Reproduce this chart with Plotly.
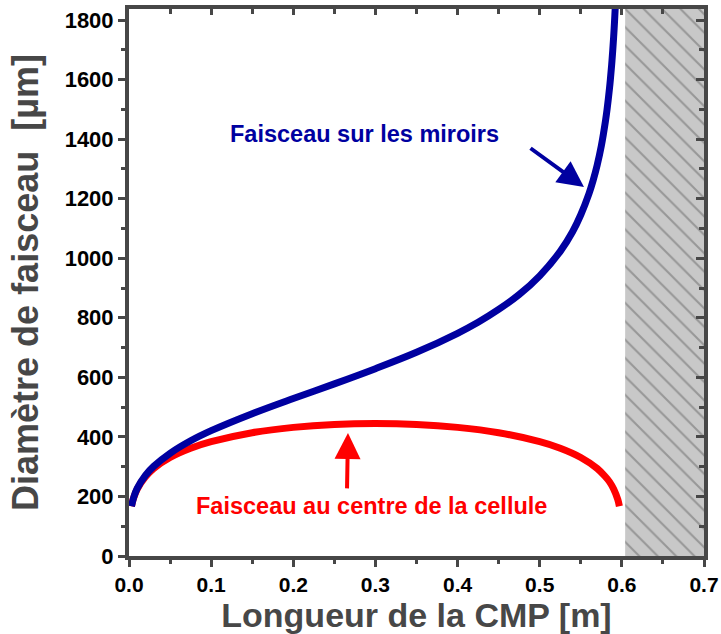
import plotly.graph_objects as go

# Cell length (m) and beam diameter (µm) at the mirrors
mirror_len = [0.003, 0.006, 0.01, 0.02, 0.03, 0.05, 0.075, 0.1, 0.15, 0.2, 0.25, 0.3,
              0.35, 0.4, 0.425, 0.45, 0.475, 0.5, 0.525, 0.54, 0.55, 0.56, 0.565, 0.57,
              0.575, 0.58, 0.582, 0.585, 0.586, 0.588, 0.59, 0.591, 0.592, 0.5925]
mirror_diam = [167, 199, 227, 271, 301, 345, 387, 421, 478, 529, 578, 629,
               684, 748, 785, 828, 878, 941, 1023, 1089, 1146, 1217, 1261, 1313,
               1377, 1460, 1500, 1572, 1600, 1664, 1743, 1791, 1845, 1875]

# Cell length (m) and beam diameter (µm) at the centre of the cell
centre_len = [0.003, 0.005, 0.01, 0.02, 0.03, 0.05, 0.075, 0.1, 0.15, 0.2, 0.25, 0.3,
              0.35, 0.4, 0.45, 0.5, 0.525, 0.55, 0.57, 0.58, 0.585, 0.59, 0.595, 0.597]
centre_diam = [167, 190, 225, 266, 294, 331, 362, 384, 414, 432, 442, 445,
               442, 432, 414, 384, 362, 331, 294, 266, 249, 225, 190, 167]

# Axis limits and ticks
x_max = 0.7
y_max = 1837
x_ticks = [0.0, 0.1, 0.2, 0.3, 0.4, 0.5, 0.6, 0.7]
y_ticks = [0, 200, 400, 600, 800, 1000, 1200, 1400, 1600, 1800]

# Unstable-cell zone (hatched)
unstable_from = 0.604

AXIS_GREY = "#474747"
BLUE = "#0000a0"
RED = "#ff0000"
FONT = "Liberation Sans, Arial, sans-serif"

fig = go.Figure()

fig.add_trace(go.Scatter(
    x=[unstable_from, x_max, x_max, unstable_from, unstable_from],
    y=[0, 0, y_max, y_max, 0],
    mode="lines", line=dict(width=0), fill="toself", fillcolor="#c8c8c8",
    fillpattern=dict(shape="\\", bgcolor="#c8c8c8", fgcolor="#666666",
                     size=13, solidity=0.16),
    hoverinfo="skip", showlegend=False,
))

fig.add_trace(go.Scatter(
    x=centre_len, y=centre_diam, mode="lines",
    line=dict(color=RED, width=7, shape="spline"), showlegend=False,
))
fig.add_trace(go.Scatter(
    x=mirror_len, y=mirror_diam, mode="lines",
    line=dict(color=BLUE, width=7, shape="spline"), showlegend=False,
))

# Invisible trace that carries the mirrored top/right axes
fig.add_trace(go.Scatter(x=[0], y=[0], xaxis="x2", yaxis="y2", mode="markers",
                         marker=dict(opacity=0), hoverinfo="skip", showlegend=False))

x_tick_font = dict(family=FONT, size=21, color="black", weight="bold")
y_tick_font = dict(family=FONT, size=22, color="black", weight="bold")
x_title_font = dict(family=FONT, size=34, color=AXIS_GREY, weight="bold")
y_title_font = dict(family=FONT, size=36, color=AXIS_GREY, weight="bold")

fig.update_layout(
    width=721, height=634, autosize=False,
    margin=dict(l=129, r=17, t=9, b=78),
    plot_bgcolor="white", paper_bgcolor="white",
    xaxis=dict(
        range=[0, x_max], tickvals=x_ticks, tickformat=".1f", automargin=False,
        ticks="outside", ticklen=7, tickwidth=3, tickcolor=AXIS_GREY,
        minor=dict(dtick=0.05, ticks="outside", ticklen=4, tickwidth=3, tickcolor=AXIS_GREY),
        showline=True, linewidth=4, linecolor=AXIS_GREY, showgrid=False, zeroline=False,
        tickfont=x_tick_font,
        title=dict(text="Longueur de la CMP [m]", font=x_title_font, standoff=9),
    ),
    yaxis=dict(
        range=[0, y_max], tickvals=y_ticks, automargin=False,
        ticks="outside", ticklen=7, tickwidth=3, tickcolor=AXIS_GREY,
        minor=dict(dtick=100, ticks="outside", ticklen=4, tickwidth=3, tickcolor=AXIS_GREY),
        showline=True, linewidth=4, linecolor=AXIS_GREY, showgrid=False, zeroline=False,
        tickfont=y_tick_font,
        title=dict(text="Diamètre de faisceau  [µm]", font=y_title_font, standoff=16),
    ),
    xaxis2=dict(
        overlaying="x", side="top", range=[0, x_max], tickvals=x_ticks, automargin=False,
        ticks="inside", ticklen=6, tickwidth=3, tickcolor=AXIS_GREY,
        minor=dict(dtick=0.05, ticks="inside", ticklen=5, tickwidth=3, tickcolor=AXIS_GREY),
        showline=True, linewidth=4, linecolor=AXIS_GREY, showticklabels=False,
        showgrid=False, zeroline=False,
    ),
    yaxis2=dict(
        overlaying="y", side="right", range=[0, y_max], tickvals=y_ticks, automargin=False,
        ticks="inside", ticklen=8, tickwidth=3, tickcolor=AXIS_GREY,
        minor=dict(dtick=100, ticks="inside", ticklen=5, tickwidth=3, tickcolor=AXIS_GREY),
        showline=True, linewidth=4, linecolor=AXIS_GREY, showticklabels=False,
        showgrid=False, zeroline=False,
    ),
    annotations=[
        dict(x=0.2867, y=1417, xref="x", yref="y", showarrow=False,
             text="<b>Faisceau sur les miroirs</b>",
             font=dict(family=FONT, size=23.5, color=BLUE)),
        dict(x=0.5539, y=1239, ax=0.487, ay=1373, xref="x", yref="y",
             axref="x", ayref="y", text="", showarrow=True,
             arrowhead=2, arrowsize=1.3, arrowwidth=4, arrowcolor=BLUE, standoff=0),
        dict(x=0.2952, y=168, xref="x", yref="y", showarrow=False,
             text="<b>Faisceau au centre de la cellule</b>",
             font=dict(family=FONT, size=23.5, color=RED)),
        dict(x=0.2666, y=413, ax=0.2654, ay=222, xref="x", yref="y",
             axref="x", ayref="y", text="", showarrow=True,
             arrowhead=2, arrowsize=1.3, arrowwidth=4, arrowcolor=RED, standoff=0),
    ],
)

fig.write_html("out.html")
